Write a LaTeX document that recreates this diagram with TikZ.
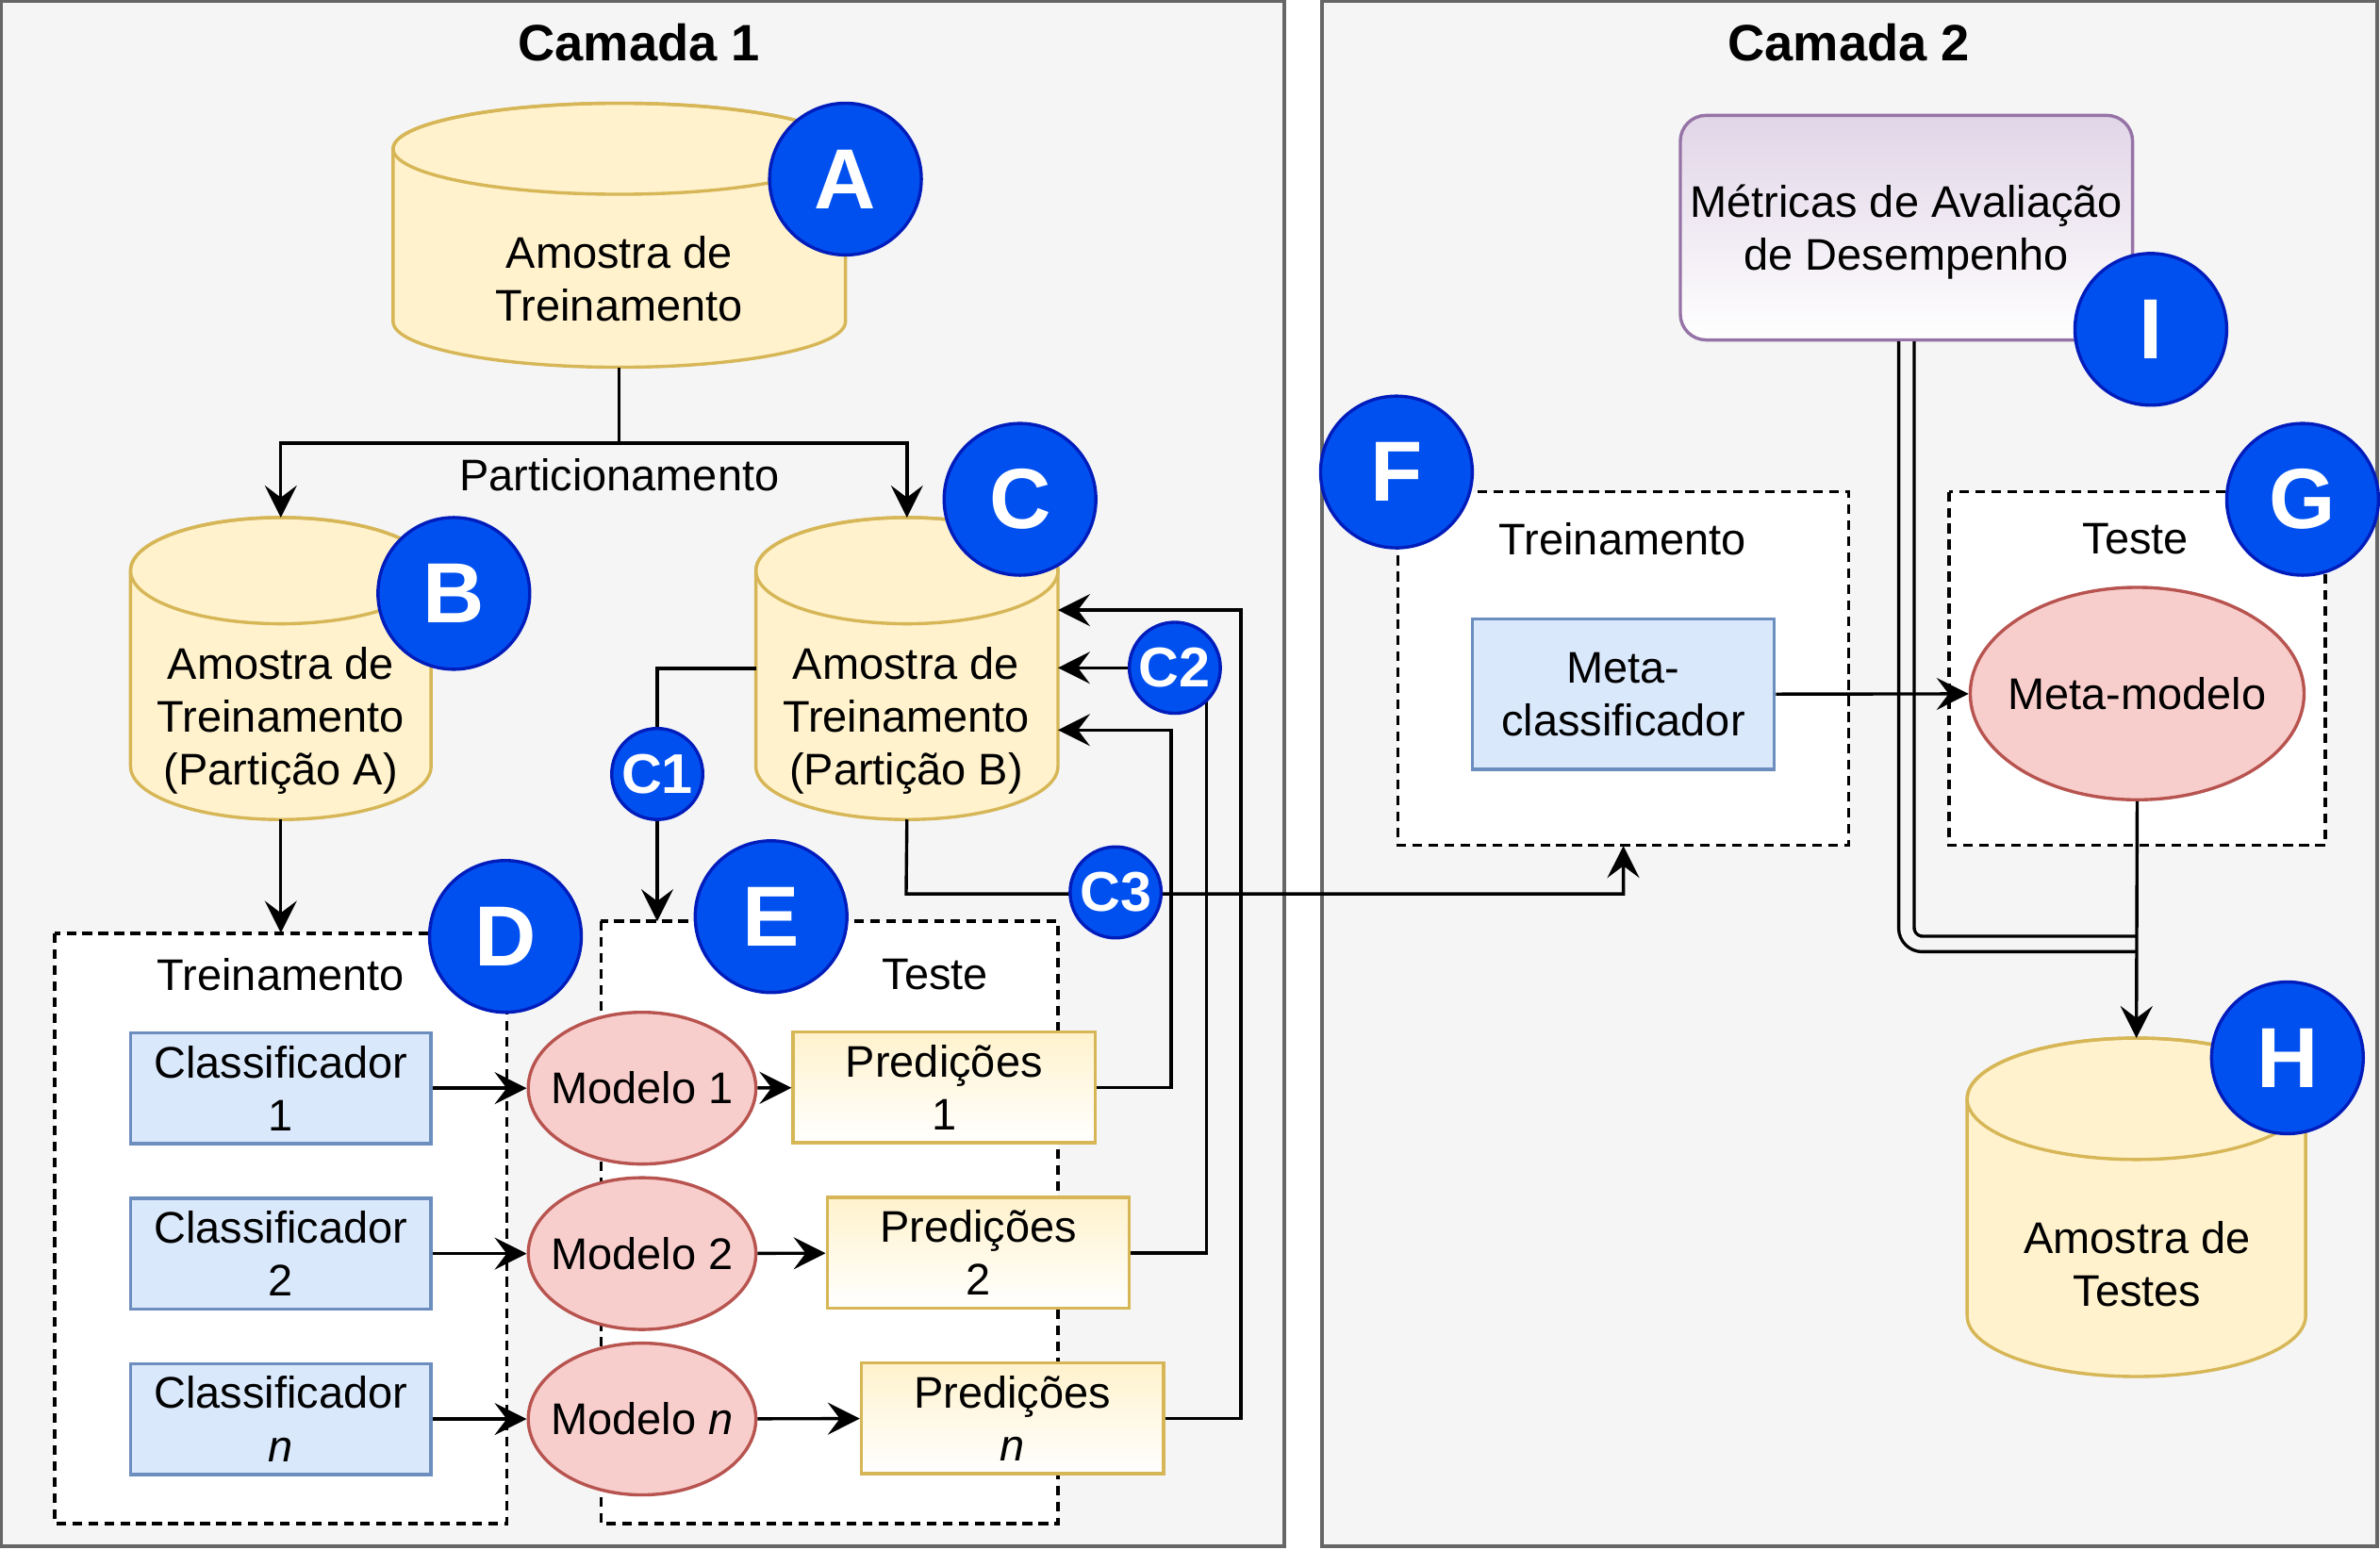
\documentclass[tikz,border=0pt]{standalone}
\usepackage{fontspec}
\setmainfont{Liberation Sans}
\usetikzlibrary{shapes.geometric,arrows.meta,calc}
\definecolor{panelbg}{HTML}{F5F5F5}
\definecolor{panelln}{HTML}{666666}
\definecolor{cylfill}{HTML}{FFF2CC}
\definecolor{cylln}{HTML}{D6B656}
\definecolor{bluefill}{HTML}{DAE8FC}
\definecolor{blueln}{HTML}{6C8EBF}
\definecolor{redfill}{HTML}{F8CECC}
\definecolor{redln}{HTML}{B85450}
\definecolor{badgefill}{HTML}{0050EF}
\definecolor{badgeln}{HTML}{001DBC}
\definecolor{purpfill}{HTML}{E1D5E7}
\definecolor{purpln}{HTML}{9673A6}
\newcommand\drawcyl[6]{%
  \pgfmathsetmacro\cylrx{(#3-#2)/2*0.02}%
  \pgfmathsetmacro\cylry{#6*0.02}%
  \pgfmathsetmacro\cylcx{(#2+#3)/2}%
  \pgfmathsetmacro\cylcy{(#4+#5)/2}%
  \pgfmathsetmacro\cylw{(#3-#2)*0.02}%
  \pgfmathsetmacro\cylh{(#5-#4)*0.02}%
  \path[cylbody] (#2,#4+#6) -- (#2,#5-#6) arc[start angle=180,end angle=360,x radius=\cylrx cm,y radius=\cylry cm] -- (#3,#4+#6) arc[start angle=0,end angle=180,x radius=\cylrx cm,y radius=\cylry cm] -- cycle;
  \draw[cylline] (\cylcx,#4+#6) ellipse[x radius=\cylrx cm,y radius=\cylry cm];
  \node[minimum width=\cylw cm,minimum height=\cylh cm,inner sep=0pt,outer sep=0pt] (#1) at (\cylcx,\cylcy) {};
}
\begin{document}
\begin{tikzpicture}[x=0.02cm,y=-0.02cm,
  txt/.style={font=\fontsize{16.6}{19.9}\selectfont, align=center, inner sep=0pt},
  ttl/.style={font=\fontsize{19.2}{22}\selectfont\bfseries, inner sep=0pt},
  panel/.style={fill=panelbg, draw=panelln, line width=1.3pt},
  cont/.style={fill=white, draw=black, line width=1.2pt, dash pattern=on 3.6pt off 2.4pt},
  cylbody/.style={fill=cylfill, draw=cylln, line width=1.2pt},
  cylline/.style={draw=cylln, line width=1.2pt},
  clf/.style={txt, rectangle, fill=bluefill, draw=blueln, line width=1.2pt, minimum width=3.96cm, minimum height=1.46cm},
  model/.style={ellipse, fill=redfill, draw=redln, line width=1.2pt, minimum width=3cm, minimum height=2cm, inner sep=0pt},
  pred/.style={txt, rectangle, top color=cylfill, bottom color=white, draw=cylln, line width=1.2pt, minimum width=3.98cm, minimum height=1.46cm},
  badge/.style={circle, fill=badgefill, draw=badgeln, line width=1.2pt, text=white, font=\fontsize{32}{36}\selectfont\bfseries, minimum size=2cm, inner sep=0pt},
  cbadge/.style={badge, minimum size=1.2cm, font=\fontsize{21}{24}\selectfont\bfseries},
  wire/.style={line width=1.2pt, draw=black},
  arr/.style={wire, -{Stealth[length=12pt,width=12pt,inset=4.5pt]}},
  dbl/.style={line width=1.2pt, draw=black, double=panelbg, double distance=4.6pt, rounded corners=6pt}
]
\useasboundingbox (0,0) rectangle (1568,1021);
% panels
\path[panel] (1,1) rectangle (846,1019);
\path[panel] (871,1) rectangle (1566,1019);
\node[ttl] (t1) at (421,28) {Camada 1};
\node[ttl] (t2) at (1218,28) {Camada 2};

% containers
\path[cont] (36,615) rectangle (334,1004);
\node[inner sep=0pt, minimum width=5.96cm, minimum height=7.78cm] (contD) at (185,809.5) {};
\path[cont] (396,607) rectangle (697,1004);
\node[inner sep=0pt, minimum width=6.02cm, minimum height=7.94cm] (contE) at (546.5,805.5) {};
\path[cont] (921,324) rectangle (1218,557);
\node[inner sep=0pt, minimum width=5.94cm, minimum height=4.66cm] (contF) at (1069.5,440.5) {};
\path[cont] (1284,324) rectangle (1532,557);
\node[inner sep=0pt, minimum width=4.96cm, minimum height=4.66cm] (contG) at (1408,440.5) {};
\node[txt] (lD) at (185,642) {Treinamento};
\node[txt] (lE) at (616,642) {Teste};
\node[txt] (lF) at (1069,355) {Treinamento};
\node[txt] (lG) at (1407,355) {Teste};

% cylinders
\drawcyl{cylA}{259}{557}{68}{242}{30}
\node[txt] (cylAt) at (408,183.5) {Amostra de\\Treinamento};
\drawcyl{cylB}{86}{284}{341}{540}{35}
\node[txt] (cylBt) at (185,475) {Amostra de\\Treinamento\\(Partição A)};
\drawcyl{cylC}{498}{697}{341}{540}{35}
\node[txt] (cylCt) at (597,475) {Amostra de\\Treinamento\\(Partição B)};
\drawcyl{cylH}{1296}{1519}{684}{907}{40}
\node[txt] (cylHt) at (1408,833) {Amostra de\\Testes};

% classifiers, models, predictions
\node[clf] (clf1) at (185,717) {Classificador\\1};
\node[clf] (clf2) at (185,826) {Classificador\\2};
\node[clf] (clfn) at (185,935) {Classificador\\\textit{n}};
\node[model] (mod1) at (423,717) {};
\node[model] (mod2) at (423,826) {};
\node[model] (modn) at (423,935) {};
\node[txt] (mod1t) at (mod1) {Modelo 1};
\node[txt] (mod2t) at (mod2) {Modelo 2};
\node[txt] (modnt) at (modn) {Modelo \textit{n}};
\node[pred] (pred1) at (622,716.5) {Predições\\1};
\node[pred] (pred2) at (644.5,825.5) {Predições\\2};
\node[pred] (predn) at (667,934.5) {Predições\\\textit{n}};

% layer 2 nodes
\node[rectangle, rounded corners=0.34cm, top color=purpfill, bottom color=white, draw=purpln, line width=1.2pt, minimum width=5.96cm, minimum height=2.96cm, inner sep=0pt] (metr) at (1256,150) {};
\node[txt] (metrt) at (1256,153) {Métricas de Avaliação\\de Desempenho};
\node[clf, minimum width=3.98cm, minimum height=1.98cm] (mclf) at (1069.5,457.5) {Meta-\\classificador};
\node[model, minimum width=4.4cm, minimum height=2.8cm] (mmod) at (1408,457) {};
\node[txt] (mmodt) at (mmod) {Meta-modelo};

% connectors layer 1
\coordinate (split) at (408,292);
\draw[wire] (cylA.south) -- (split);
\draw[arr] (split) -| (cylB.north);
\draw[arr] (split) -| (cylC.north);
\node[txt] (part) at (408,313) {Particionamento};
\draw[arr] (cylB.south) -- (contD.north);
\coordinate (eTop) at (433,607);
\draw[arr] (cylC.west) -| (eTop);
\draw[arr] (clf1) -- (mod1);
\draw[arr] (clf2) -- (mod2);
\draw[arr] (clfn) -- (modn);
\draw[arr] (mod1) -- (pred1);
\draw[arr] (mod2) -- (pred2);
\draw[arr] (modn) -- (predn);
\coordinate (cin1) at (697,481);
\coordinate (cin2) at (697,440);
\coordinate (cinn) at (697,402);
\draw[arr] (pred1.east) -- ++(49,0) |- (cin1);
\draw[arr] (pred2.east) -- ++(50,0) |- (cin2);
\draw[arr] (predn.east) -- ++(50,0) |- (cinn);
\coordinate (c3turn) at (597,589);
\draw[arr] (cylC.south) -- (c3turn) -| (contF.south);

% connectors layer 2
\coordinate (dblstart) at (1256,225);
\coordinate (dblend) at (1408,622);
\draw[dbl] (dblstart) |- (dblend);
\draw[arr] (mclf) -- (mmod);
\draw[arr] (mmod.south) -- (cylH.north);

% badges
\node[badge] (bA) at (557,118) {A};
\node[badge] (bB) at (299,391) {B};
\node[badge] (bC) at (672,329) {C};
\node[badge] (bD) at (333,617) {D};
\node[badge] (bE) at (508,604) {E};
\node[badge] (bF) at (920,311) {F};
\node[badge] (bG) at (1517,329) {G};
\node[badge] (bH) at (1507,697) {H};
\node[badge] (bI) at (1417,217) {I};
\node[cbadge] (bC1) at (433,510) {C1};
\node[cbadge] (bC2) at (774,440) {C2};
\node[cbadge] (bC3) at (735,588) {C3};
\end{tikzpicture}
\end{document}
